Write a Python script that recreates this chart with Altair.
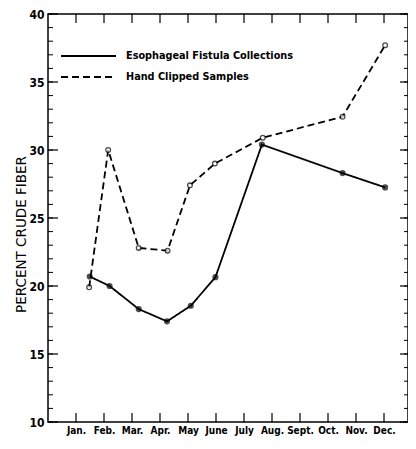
import json
import altair as alt
import pandas as pd

# ---- data ----
month_labels = ["Jan.", "Feb.", "Mar.", "Apr.", "May", "June", "July",
                "Aug.", "Sept.", "Oct.", "Nov.", "Dec."]
month_pos = list(range(1, 13))

series_names = ["Esophageal Fistula Collections", "Hand Clipped Samples"]

fist_x = [1.49, 2.20, 3.24, 4.25, 5.10, 5.98, 7.64, 10.52, 12.04]
fist_y = [20.7, 20.0, 18.3, 17.4, 18.55, 20.65, 30.4, 28.3, 27.25]

hand_x = [1.47, 2.15, 3.24, 4.27, 5.07, 5.96, 7.67, 10.52, 12.04]
hand_y = [19.9, 30.0, 22.8, 22.6, 27.4, 29.0, 30.9, 32.45, 37.7]

y_major = [10, 15, 20, 25, 30, 35, 40]
y_minor = list(range(10, 41))

# ---- layout ----
W, H = 360, 408
FONT = "DejaVu Sans Condensed"

df = pd.concat([
    pd.DataFrame({"x": fist_x, "y": fist_y, "series": series_names[0]}),
    pd.DataFrame({"x": hand_x, "y": hand_y, "series": series_names[1]}),
], ignore_index=True)

xs = alt.Scale(domain=[0, 12.857], nice=False, zero=False)
ys = alt.Scale(domain=[10, 40], nice=False, zero=False)

label_expr = json.dumps(month_labels) + "[datum.value - 1]"

x_axis = alt.Axis(values=month_pos, labelExpr=label_expr, title=None,
                  labelFontSize=10, labelPadding=3, labelFlush=False)
y_axis = alt.Axis(values=y_major, title="PERCENT CRUDE FIBER",
                  labelFontSize=12, labelPadding=4,
                  titleX=-27, titleY=220, titleAngle=270,
                  titleAlign="center", titleBaseline="middle",
                  titleFont="DejaVu Sans", titleFontSize=13.5,
                  titleFontWeight="normal")


def X():
    return alt.X("x:Q", scale=xs, axis=x_axis)


def Y():
    return alt.Y("y:Q", scale=ys, axis=y_axis)


base = alt.Chart(df)

lines = base.mark_line(color="black", strokeWidth=1.8).encode(
    x=X(), y=Y(),
    strokeDash=alt.StrokeDash(
        "series:N",
        scale=alt.Scale(domain=series_names, range=[[1, 0], [7, 4]]),
        legend=alt.Legend(orient="none", legendX=12, legendY=34, title=None,
                          symbolType="stroke", symbolSize=3025, clipHeight=16,
                          symbolStrokeWidth=1.8, symbolStrokeColor="black",
                          labelFont=FONT, labelFontSize=10.8, labelFontWeight="bold",
                          labelColor="black", labelOffset=9, rowPadding=5,
                          labelLimit=400, padding=0),
    ),
)

pts_fist = base.transform_filter(
    alt.datum.series == series_names[0]
).mark_point(shape="circle", filled=True, color="black", size=38).encode(
    x=X(), y=Y())

pts_hand = base.transform_filter(
    alt.datum.series == series_names[1]
).mark_point(shape="circle", filled=True, fill="white", stroke="black",
             strokeWidth=1.3, size=22).encode(
    x=X(), y=Y())

mdf = pd.DataFrame({"x": month_pos})
tick_bottom = alt.Chart(mdf).mark_rule(color="black", strokeWidth=1.2).encode(
    x=X(), y=alt.value(H), y2=alt.value(H - 9))
tick_top = alt.Chart(mdf).mark_rule(color="black", strokeWidth=1.2).encode(
    x=X(), y=alt.value(0), y2=alt.value(9))

majdf = pd.DataFrame({"y": y_major})
mindf = pd.DataFrame({"y": y_minor})
tick_left_major = alt.Chart(majdf).mark_rule(color="black", strokeWidth=1.2).encode(
    y=Y(), x=alt.value(0), x2=alt.value(10))
tick_left_minor = alt.Chart(mindf).mark_rule(color="black", strokeWidth=1.0).encode(
    y=Y(), x=alt.value(0), x2=alt.value(5))
tick_right_major = alt.Chart(majdf).mark_rule(color="black", strokeWidth=1.2).encode(
    y=Y(), x=alt.value(W - 8), x2=alt.value(W))
tick_right_minor = alt.Chart(mindf).mark_rule(color="black", strokeWidth=1.0).encode(
    y=Y(), x=alt.value(W - 4), x2=alt.value(W))

chart = alt.layer(
    lines, tick_bottom, tick_top, tick_left_major, tick_left_minor,
    tick_right_major, tick_right_minor, pts_fist, pts_hand,
).properties(
    width=W, height=H,
    padding={"left": 40, "top": 6, "right": 0, "bottom": 14},
    autosize=alt.AutoSizeParams(type="none"),
    background="white",
).configure_axis(
    labelFont=FONT, labelFontWeight="bold", labelColor="black",
    titleColor="black", domain=False, grid=False, ticks=False,
).configure_view(
    stroke="black", strokeWidth=1.5,
)

chart.save("out.html", embed_options={"renderer": "svg", "actions": False})
